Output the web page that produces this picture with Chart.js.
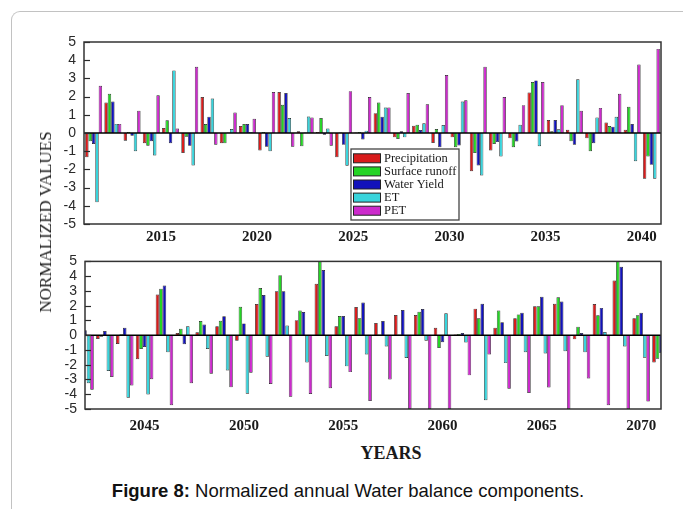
<!DOCTYPE html>
<html>
<head>
<meta charset="utf-8">
<script src="https://cdn.jsdelivr.net/npm/chart.js@4.4.0/dist/chart.umd.min.js"></script>
<style>
  html, body { margin: 0; padding: 0; background: #fff; }
  #page { position: relative; width: 683px; height: 509px; overflow: hidden; background: #fff; }
  #frame { position: absolute; left: 11px; top: 11px; width: 720px; height: 540px;
           border-left: 1.5px solid #c2c2c2; border-top: 1.5px solid #c2c2c2; border-top-left-radius: 9px; }
  canvas { position: absolute; left: 0; }
  #yTitle { position: absolute; left: 46px; top: 222px; transform: translate(-50%, -50%) rotate(-90deg);
            font: 17px "Liberation Serif", "Times New Roman", serif; color: #1a1a1a; white-space: nowrap; }
  #xTitle { position: absolute; left: 391px; top: 453px; transform: translate(-50%, -50%);
            font: bold 18px "Liberation Serif", "Times New Roman", serif; color: #1a1a1a; white-space: nowrap; }
  #caption { position: absolute; left: 348px; top: 491px; transform: translate(-50%, -50%);
             font: 18.5px "Liberation Sans", Arial, sans-serif; color: #111; white-space: nowrap; }
</style>
</head>
<body>
<div id="page">
  <div id="frame"></div>
  <canvas id="topChart" width="683" height="250" style="top:0px"></canvas>
  <canvas id="bottomChart" width="683" height="195" style="top:245px"></canvas>
  <div id="yTitle">NORMALIZED VALUES</div>
  <div id="xTitle">YEARS</div>
  <div id="caption"><b>Figure 8:</b> Normalized annual Water balance components.</div>
</div>
<script>
// Years and normalized values, 2011-2040
const yearsA = ['2011','2012','2013','2014','2015','2016','2017','2018','2019','2020',
                '2021','2022','2023','2024','2025','2026','2027','2028','2029','2030',
                '2031','2032','2033','2034','2035','2036','2037','2038','2039','2040'];
const precipA = [-1.33, 1.67, -0.42, -0.56, 0.27, -1.10, 1.98, -0.56, 0.38, -0.96,
                  2.25, 0.10, 0.05, -1.33, 0.03, 1.09, -0.24, 0.40, -0.55, -0.24,
                 -2.10, -0.96, -0.29, 2.22, 0.71, 0.18, -0.29, 0.58, 0.18, -2.51];
const runoffA = [-0.45, 2.16, 0.05, -0.70, 0.70, -0.20, 0.49, -0.56, 0.49, 0.05,
                  1.55, -0.73, 0.82, 0.03, 0.05, 1.67, -0.33, 0.45, 0.22, -0.78,
                 -1.10, -0.60, -0.78, 2.80, 0.10, -0.45, -1.00, 0.38, 1.44, -1.29];
const yieldA  = [-0.60, 1.73, -0.15, -0.45, -0.56, -0.70, 0.89, 0.03, 0.49, -0.75,
                  2.20, 0.03, -0.10, -0.65, -0.36, 0.89, 0.10, 0.16, -0.78, -0.69,
                 -1.78, -0.50, -0.47, 2.89, 0.71, -0.64, -0.56, 0.35, 0.49, -1.75];
const etA     = [-3.80, 0.50, -1.00, -1.24, 3.44, -1.78, 1.89, 0.22, 0.05, -1.00,
                  0.82, 0.90, 0.25, -1.80, 0.13, 1.40, -0.24, 0.53, 0.44, 1.73,
                 -2.33, -1.29, 0.45, -0.73, 0.20, 2.95, 0.85, 0.89, -1.55, -2.51];
const petA    = [ 2.60, 0.50, 1.22, 2.07, 0.25, 3.64, -0.64, 1.13, 0.78, 2.25,
                 -0.75, 0.85, -0.70, 2.30, 1.98, 1.40, 2.20, 1.58, 3.18, 1.80,
                  3.64, 1.98, 1.53, 2.80, 1.53, 1.22, 1.38, 2.16, 3.76, 4.62];

// Years and normalized values, 2042-2071
const yearsB = ['2042','2043','2044','2045','2046','2047','2048','2049','2050','2051',
                '2052','2053','2054','2055','2056','2057','2058','2059','2060','2061',
                '2062','2063','2064','2065','2066','2067','2068','2069','2070','2071'];
const precipB = [ 0.20, -0.26, -0.59, -1.63, 2.76, 0.15, 0.20, 0.61, -0.37, 2.11,
                  2.98, 1.02, 3.48, 0.61, 1.91, 0.83, 1.37, 1.37, 0.50, 0.05,
                  1.80, 0.50, 1.15, 1.96, 2.13, -0.28, 2.11, 3.70, 1.15, -1.85];
const runoffB = [ 0.20, -0.10, 0.07, -0.93, 3.15, 0.43, 0.96, 0.98, 1.93, 3.20,
                  4.07, 1.67, 5.00, 1.30, 1.15, 0.05, 0.05, 1.59, -0.87, 0.08,
                  1.15, 1.67, 1.41, 1.96, 2.57, 0.57, 1.35, 5.00, 1.35, -1.59];
const yieldB  = [ 0.33, 0.28, 0.50, -0.80, 3.37, -0.61, 0.72, 1.28, 0.80, 2.72,
                  2.98, 1.57, 4.41, 1.30, 2.22, 0.96, 1.70, 1.78, -0.48, 0.15,
                  2.13, 0.87, 1.52, 2.61, 2.28, 0.15, 1.85, 4.63, 1.52, -1.20];
const etB     = [-3.26, -2.43, -4.24, -4.02, -1.15, 0.61, -0.93, -2.39, -3.96, -1.46,
                  0.65, -1.85, -1.41, -2.11, -1.30, -0.76, -1.54, -0.37, 1.48, -0.50,
                 -4.41, -1.89, -1.15, -1.24, -1.09, -1.15, 0.22, -0.76, -1.52, -1.00];
const petB    = [-3.70, -2.83, -3.41, -2.98, -4.74, -3.26, -2.61, -3.52, -2.54, -3.30,
                 -4.17, -3.98, -3.59, -2.50, -4.46, -3.00, -5.00, -5.00, -5.00, -2.72,
                 -1.30, -3.63, -3.91, -3.54, -5.00, -2.93, -4.74, -5.00, -4.50, -3.00];

const seriesNames = ['Precipitation', 'Surface runoff', 'Water Yield', 'ET', 'PET'];
const seriesColors = ['#d81b1b', '#24d424', '#1212bb', '#38d4dc', '#cc2acc'];

// Frame, zero line, inward y ticks and the in-plot legend
const framePlugin = {
  id: 'panelFrame',
  afterDatasetsDraw(chart, args, opts) {
    const ctx = chart.ctx, a = chart.chartArea, y = chart.scales.y;
    ctx.save();
    ctx.strokeStyle = '#000';
    ctx.lineWidth = 1.5;
    const y0 = y.getPixelForValue(0);
    ctx.beginPath(); ctx.moveTo(a.left, y0); ctx.lineTo(a.right, y0); ctx.stroke();
    ctx.strokeStyle = '#2a2a2a';
    ctx.lineWidth = 1.2;
    y.ticks.forEach(t => {
      const py = Math.round(y.getPixelForValue(t.value)) + 0.5;
      ctx.beginPath(); ctx.moveTo(a.left, py); ctx.lineTo(a.left + 6, py); ctx.stroke();
    });
    ctx.lineWidth = 1.5;
    ctx.strokeStyle = '#333';
    ctx.strokeRect(a.left, a.top, a.right - a.left, a.bottom - a.top);

    if (opts.legend) {
      const bx = a.left + 267, by = a.top + 107, bw = 108, bh = 71;
      ctx.fillStyle = '#fff';
      ctx.fillRect(bx, by, bw, bh);
      ctx.strokeStyle = '#444';
      ctx.lineWidth = 1.3;
      ctx.strokeRect(bx, by, bw, bh);
      ctx.font = '12.5px "Liberation Serif", "Times New Roman", serif';
      ctx.textBaseline = 'middle';
      chart.data.datasets.forEach((ds, i) => {
        const cy = by + 9.3 + i * 13.1;
        ctx.fillStyle = ds.backgroundColor;
        ctx.fillRect(bx + 2.5, cy - 4.5, 27, 9);
        ctx.strokeStyle = '#222';
        ctx.lineWidth = 1;
        ctx.strokeRect(bx + 2.5, cy - 4.5, 27, 9);
        ctx.fillStyle = '#1a1a1a';
        ctx.fillText(ds.label, bx + 33, cy + 0.5);
      });
    }
    ctx.restore();
  }
};

function makePanel(id, labels, values, o) {
  return new Chart(document.getElementById(id), {
    type: 'bar',
    data: {
      labels: labels,
      datasets: values.map((v, i) => ({
        label: seriesNames[i],
        data: v,
        backgroundColor: seriesColors[i],
        borderColor: '#1c1c1c',
        borderWidth: 0.7,
        categoryPercentage: 0.88,
        barPercentage: 1.0,
        clip: 0
      }))
    },
    options: {
      responsive: false,
      animation: false,
      devicePixelRatio: 1,
      layout: { padding: { top: o.padTop, right: 22, left: 0, bottom: 0 } },
      plugins: {
        legend: { display: false },
        tooltip: { enabled: false },
        panelFrame: { legend: o.legend }
      },
      scales: {
        x: {
          type: 'category',
          offset: o.offset,
          grid: { display: false, drawTicks: false },
          border: { display: false },
          ticks: {
            autoSkip: false,
            maxRotation: 0,
            padding: o.xPad,
            labelOffset: o.labelOffset,
            color: '#1a1a1a',
            font: { family: '"Liberation Serif", "Times New Roman", serif', weight: 'bold', size: 15 },
            callback(v) {
              const l = this.getLabelForValue(v);
              return (+l) % 5 === 0 ? l : '';
            }
          },
          afterFit(s) { s.height = o.xHeight; }
        },
        y: {
          min: -5, max: 5,
          grid: { display: false, drawTicks: false },
          border: { display: false },
          ticks: {
            stepSize: 1,
            autoSkip: false,
            padding: 8,
            color: '#2a2a2a',
            font: { family: '"Liberation Sans", Arial, sans-serif', size: 14 }
          },
          afterFit(s) { s.width = o.yWidth; }
        }
      }
    },
    plugins: [framePlugin]
  });
}

// 2011-2040: bars fill each year slot, year labels sit on slot boundaries
makePanel('topChart', yearsA, [precipA, runoffA, yieldA, etA, petA], {
  padTop: 42, xHeight: 26, yWidth: 84, offset: true, labelOffset: -9.6, xPad: 4, legend: true
});
// 2042-2071: year groups centred on ticks, end groups cut by the frame
makePanel('bottomChart', yearsB, [precipB, runoffB, yieldB, etB, petB], {
  padTop: 10, xHeight: 31, yWidth: 85, offset: false, labelOffset: 0, xPad: 8, legend: false
});
</script>
</body>
</html>
